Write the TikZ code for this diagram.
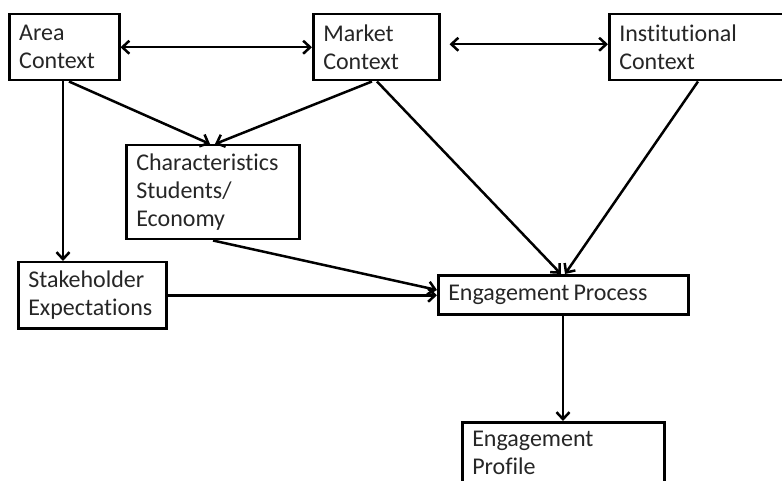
\documentclass[tikz,border=0pt]{standalone}
\usepackage{fontspec}
\setmainfont{Carlito}[Ligatures=NoCommon]
\usetikzlibrary{arrows.meta,calc}
\begin{document}
\begin{tikzpicture}[x=1pt,y=-1pt,
  box/.style={draw,line width=2.5pt,anchor=north west,inner xsep=10pt,inner ysep=0pt,
    align=left,font=\fontsize{24}{28}\selectfont,text=black!85},
  conn/.style={line width=2.5pt,-{Straight Barb[length=7pt,width=13pt]}},
  biconn/.style={line width=2.5pt,{Straight Barb[length=7pt,width=13pt]}-{Straight Barb[length=7pt,width=13pt]}}]
\useasboundingbox (0,0) rectangle (782,481);
\clip (0,0) rectangle (782,481);
\node[box,minimum width=110pt,minimum height=66pt,text width=90pt] (area) at (8,13) {Area\\Context};
\node[box,minimum width=126pt,minimum height=66pt,text width=106pt] (market) at (312,13) {Market\\Context};
\node[box,minimum width=200pt,minimum height=66pt,text width=180pt] (inst) at (608,13) {Institutional\\Context};
\node[box,minimum width=173pt,minimum height=94pt,text width=153pt] (chars) at (125,144) {Characteristics\\Students/\\Economy};
\node[box,minimum width=148pt,minimum height=66pt,text width=128pt,inner xsep=9pt] (stake) at (17,261) {Stakeholder\\Expectations};
\node[box,minimum width=250pt,minimum height=39pt,text width=230pt] (proc) at (437,274) {Engagement\,Process};
\node[box,minimum width=202pt,minimum height=62pt,text width=182pt] (prof) at (461,421) {Engagement\\Profile};
\draw[biconn] (area.east) -- (market.west);
\draw[biconn] ($(market.east)+(9,-3)$) -- ($(inst.west)+(0,-3)$);
\draw[conn] ($(area.south west)+(55,0)$) -- ($(stake.north west)+(46,0)$);
\draw[conn] ($(area.south west)+(61,0)$) -- ($(chars.north west)+(85,0)$);
\draw[conn] ($(market.south west)+(60,0)$) -- ($(chars.north west)+(90,0)$);
\draw[conn] ($(market.south west)+(65,0)$) -- ($(proc.north west)+(124,0)$);
\draw[conn] ($(inst.south west)+(90,0)$) -- ($(proc.north west)+(128,0)$);
\draw[conn] ($(chars.south west)+(88,0)$) -- ($(proc.north west)+(0,16)$);
\draw[conn] (stake.east) -- (stake.east -| proc.west);
\draw[conn] ($(proc.south west)+(126,0)$) -- ($(prof.north west)+(102,0)$);
\end{tikzpicture}
\end{document}
